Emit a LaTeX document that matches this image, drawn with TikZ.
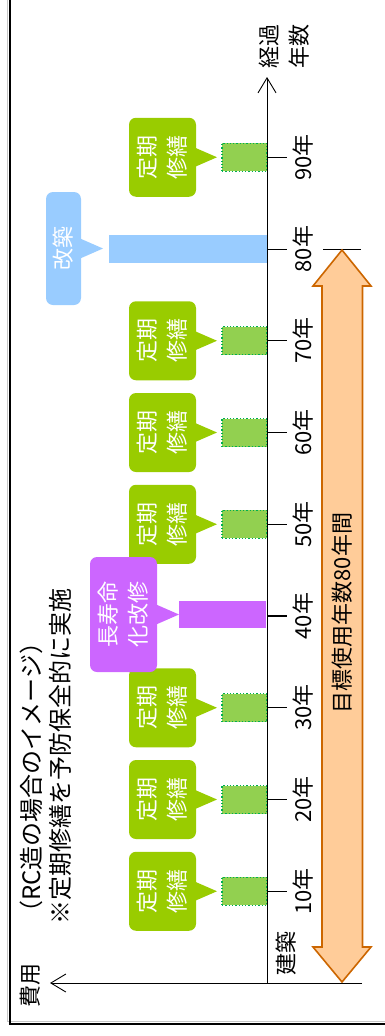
\documentclass[tikz,border=0pt]{standalone}
\usepackage{fontspec}
\setmainfont{Noto Sans CJK JP}
\usetikzlibrary{arrows.meta}
\definecolor{calgreen}{HTML}{99CC00}
\definecolor{boxgreen}{HTML}{92D050}
\definecolor{dotgreen}{HTML}{00B050}
\definecolor{calblue}{HTML}{99CCFF}
\definecolor{calpurple}{HTML}{CC66FF}
\definecolor{arrfill}{HTML}{FFCC99}
\definecolor{arrline}{HTML}{CC6600}
\begin{document}
\begin{tikzpicture}[x=1pt,y=-1pt,
  lbl/.style={rotate=90, font=\fontsize{22}{30}\selectfont, inner sep=0pt, align=center},
  callout/.style={rotate=90, rounded corners=7pt, inner sep=0pt, text=white,
    font=\fontsize{22}{30}\selectfont, align=center},
  mbox/.style={draw=dotgreen, dotted, line width=1.3pt, fill=boxgreen,
    minimum width=45pt, minimum height=28pt, inner sep=0pt},
  bar/.style={inner sep=0pt, draw=none},
  axis/.style={line width=0.9pt, -{Straight Barb[length=15pt,width=18pt,line width=0.9pt]}},
  tick/.style={line width=0.9pt}
]
\useasboundingbox (0,0) rectangle (385,1036);
% frame
\draw[gray!45, line width=1pt] (7.5,0) -- (7.5,1021.5) -- (385,1021.5);
\draw[black, line width=2pt] (10,0) -- (10,1023.5) -- (385,1023.5);

% coordinates
\coordinate (O) at (267,983);
\coordinate (ytip) at (267,77);
\coordinate (xtip) at (50,983);
\coordinate (xend) at (362,983);

% green periodic repairs
\foreach \n in {1,2,3,5,6,7,9}{
  \pgfmathsetmacro\ty{983-91.75*\n}
  \node[callout, fill=calgreen, minimum width=79pt, minimum height=67pt] (c\n) at (162.5,\ty) {定期\\修繕};
  \fill[calgreen] (194,\ty-10) -- (217,\ty) -- (194,\ty+10) -- cycle;
  \node[mbox] (m\n) at (244.5,\ty) {};
}

% 80: rebuild
\node[bar, fill=calblue, minimum width=158pt, minimum height=28pt] (bar8) at (188,249) {};
\node[callout, fill=calblue, minimum width=113pt, minimum height=35pt] (c8) at (63.5,248.5) {改築};
\fill[calblue] (79,238) -- (103,248.5) -- (79,259) -- cycle;

% 40: long life renovation
\node[bar, fill=calpurple, minimum width=87pt, minimum height=27pt] (bar4) at (222.5,614.5) {};
\node[callout, fill=calpurple, minimum width=115pt, minimum height=67pt] (c4) at (123.5,614.5) {長寿命\\化改修};
\fill[calpurple] (155,604) -- (179,614.5) -- (155,625) -- cycle;

% axes
\draw[axis] (O) -- (ytip);
\draw[axis] (xend) -- (xtip);

% ticks and year labels
\foreach \n in {1,2,3,5,6,7,8,9}{
  \pgfmathsetmacro\ty{983-91.75*\n}
  \draw[tick] (267,\ty) -- (287,\ty);
  \node[lbl] (y\n) at (303,\ty) {\n0年};
}
\draw[line width=1.7pt] (267,616) -- (287,616);
\node[lbl] (y4) at (303,616) {40年};

% target line and double arrow
\draw[tick] (323,249) -- (361,249);
\filldraw[fill=arrfill, draw=arrline, line width=1.6pt, line join=miter]
  (342,250) -- (371,286) -- (362.5,286) -- (362.5,947) -- (371,947) -- (342,982)
  -- (313,947) -- (322,947) -- (322,286) -- (313,286) -- cycle;
\node[lbl] (goal) at (342,613) {目標使用年数80年間};

% labels
\node[lbl] (kenchiku) at (286,953) {建築};
\node[lbl] (hiyou) at (30,985) {費用};
\node[lbl] (keika) at (284,46) {経過\\年数};
\node[lbl, font=\fontsize{24}{29}\selectfont, align=left, anchor=north west] (title) at (20,925)
  {（RC造の場合のイメージ）\\※定期修繕を予防保全的に実施};
\end{tikzpicture}
\end{document}
